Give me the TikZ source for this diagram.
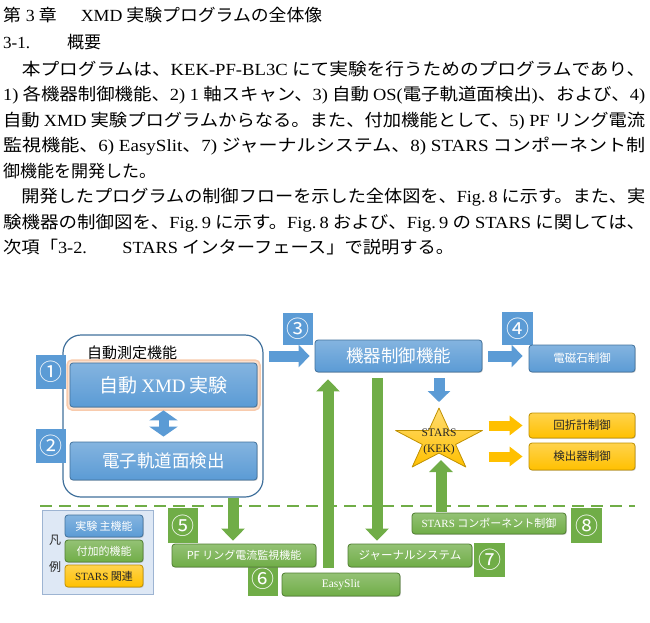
\documentclass[tikz,border=0pt]{standalone}
\usepackage{graphicx}
\usepackage{fontspec}
\setmainfont{Noto Sans CJK JP}
\newfontfamily\latn{Liberation Serif}
\usetikzlibrary{arrows.meta,shadows}
\newcommand{\ltn}[1]{{\latn #1}}
\definecolor{bfill}{HTML}{5B9BD5}
\definecolor{bdraw}{HTML}{41719C}
\definecolor{gfill}{HTML}{70AD47}
\definecolor{gdraw}{HTML}{507E32}
\definecolor{yfill}{HTML}{FFC000}
\definecolor{ydraw}{HTML}{BF9000}
\definecolor{lgfill}{HTML}{DEE8F5}
\definecolor{lgdraw}{HTML}{9DB4D2}
\definecolor{glowc}{HTML}{F8CBAD}
\tikzset{
  para/.style={anchor=base west, inner sep=0pt, font=\fontsize{17}{17}\selectfont},
  box/.style={rounded corners=3pt, inner sep=0pt, align=center, line width=0.8pt,
    drop shadow={shadow xshift=0.9pt, shadow yshift=-0.9pt, opacity=0.35}},
  bbox/.style={box, draw=bdraw, top color=bfill!75!white, bottom color=bfill, text=white},
  gbox/.style={box, draw=gdraw, top color=gfill!75!white, bottom color=gfill, text=white},
  ybox/.style={box, draw=ydraw, top color=yfill!70!white, bottom color=yfill, text=black!85},
  numsq/.style={inner sep=0pt, text=white, font=\fontsize{23}{23}\selectfont},
  bsq/.style={numsq, fill=bfill},
  gsq/.style={numsq, fill=gfill},
  barrow/.style={draw=bfill, line width=11pt, -{Triangle[width=22pt,length=11pt]}},
  darrow/.style={draw=bfill, line width=10pt, {Triangle[width=28pt,length=10pt]}-{Triangle[width=28pt,length=10pt]}},
  oarrow/.style={draw=yfill, line width=10pt, -{Triangle[width=19pt,length=13pt]}},
  garrow/.style={draw=gfill, line width=11pt, -{Triangle[width=23pt,length=12pt]}},
}
\begin{document}
\begin{tikzpicture}[x=1pt,y=-1pt]
\useasboundingbox (0,0) rectangle (650,623);
% ---------------- text ----------------
\node[para] (t1) at (3,21.1) {\resizebox{319pt}{\height}{第\hspace{4.5pt}\ltn{3}\hspace{4pt}章\hspace{23pt}\ltn{XMD} 実験プログラムの全体像}};
\node[para] (t2) at (3,48.2) {\ltn{3-1.}\hspace{37pt}概要};
\node[para] (t3) at (3,75.3) {\resizebox{642pt}{\height}{　本プログラムは、\ltn{KEK-PF-BL3C} にて実験を行うためのプログラムであり、}};
\node[para] (t4) at (3,100.8) {\resizebox{642pt}{\height}{\ltn{1)} 各機器制御機能、\ltn{2) 1} 軸スキャン、\ltn{3)} 自動 \ltn{OS(}電子軌道面検出\ltn{)}、および、\ltn{4)}}};
\node[para] (t5) at (3,126.3) {\resizebox{642pt}{\height}{自動 \ltn{XMD} 実験プログラムからなる。また、付加機能として、\ltn{5) PF} リング電流}};
\node[para] (t6) at (3,151.8) {\resizebox{642pt}{\height}{監視機能、\ltn{6) EasySlit}、\ltn{7)} ジャーナルシステム、\ltn{8) STARS} コンポーネント制}};
\node[para] (t7) at (3,177.3) {御機能を開発した。};
\node[para] (t8) at (3,202.8) {\resizebox{642pt}{\height}{　開発したプログラムの制御フローを示した全体図を、\ltn{Fig.\,8} に示す。また、実}};
\node[para] (t9) at (3,228.3) {\resizebox{642pt}{\height}{験機器の制御図を、\ltn{Fig.\,9} に示す。\ltn{Fig.\,8} および、\ltn{Fig.\,9} の \ltn{STARS} に関しては、}};
\node[para] (t10) at (3,253.8) {\resizebox{451pt}{\height}{次項「\ltn{3-2.}\hspace{33pt}\ltn{STARS} インターフェース」で説明する。}};
% ---------------- diagram ----------------
\draw[gfill, line width=1.3pt, dash pattern=on 12pt off 7pt] (40,506) -- (635,506);
% container
\node[draw=bdraw, fill=white, line width=1.2pt, rounded corners=18pt, minimum width=200pt, minimum height=162pt] (cont) at (163,416) {};
\node[inner sep=0pt, font=\fontsize{15}{15}\selectfont] (contlbl) at (132,353) {自動測定機能};
\node[bsq, minimum width=30pt, minimum height=34pt] (n1) at (51,372) {①};
\node[bsq, minimum width=30pt, minimum height=34pt] (n2) at (51,446) {②};
\node[rounded corners=5pt, minimum width=193pt, minimum height=50pt, fill=glowc!60!white, draw=glowc, line width=1.5pt] (glowbox) at (163.5,385) {};
\node[bbox, minimum width=187pt, minimum height=44pt, font=\fontsize{19}{19}\selectfont] (xmd) at (163.5,385) {自動 \ltn{XMD} 実験};
\node[bbox, minimum width=187pt, minimum height=38pt, font=\fontsize{17.5}{17.5}\selectfont] (orb) at (163.5,461) {電子軌道面検出};
\draw[darrow] ([yshift=-3pt]xmd.south) -- ([yshift=5pt]orb.north);
% control
\node[bsq, minimum width=30pt, minimum height=32pt] (n3) at (298,329) {③};
\node[bsq, minimum width=31pt, minimum height=33pt] (n4) at (517.5,328.5) {④};
\node[bbox, minimum width=167pt, minimum height=32pt, font=\fontsize{17.5}{17.5}\selectfont] (ctrl) at (398.5,356) {機器制御機能};
\node[bbox, minimum width=106pt, minimum height=27pt, font=\fontsize{11.5}{11.5}\selectfont] (em) at (582,358.5) {電磁石制御};
\node[ybox, minimum width=106pt, minimum height=25pt, font=\fontsize{11.5}{11.5}\selectfont] (dif) at (582,425.5) {回折計制御};
\node[ybox, minimum width=106pt, minimum height=27pt, font=\fontsize{11.5}{11.5}\selectfont] (det) at (582,456.5) {検出器制御};
% star
\coordinate (sT) at (439,408);
\coordinate (sB) at (439,453.1);
\path[draw=ydraw, line width=0.8pt, top color=yfill!55!white, bottom color=yfill, line join=round]
  (sT) -- (449.3,430.5) -- (482.4,430.5) -- (455.6,444.5) -- (465.8,467.0) -- (sB)
  -- (412.2,467.0) -- (422.4,444.5) -- (395.6,430.5) -- (428.7,430.5) -- cycle;
\node[align=center, inner sep=0pt, text=black!85, font=\latn\fontsize{11.5}{15.5}\selectfont] (stars) at (439,442) {STARS\\(KEK)};
\coordinate (xs) at (439,0);
\draw[barrow] ([xshift=5pt]cont.east |- ctrl.west) -- ([xshift=-5pt]ctrl.west);
\draw[barrow] ([xshift=6pt]ctrl.east) -- ([xshift=-6pt]em.west |- ctrl.east);
\draw[barrow] ([yshift=-6pt]ctrl.south -| xs) -- ([yshift=6pt]sT);
\draw[oarrow] ([xshift=-40pt]dif.west) -- ([xshift=-6pt]dif.west);
\draw[oarrow] ([xshift=-40pt]det.west) -- ([xshift=-6pt]det.west);
% legend
\node[draw=lgdraw, fill=lgfill, line width=0.8pt, minimum width=111pt, minimum height=84pt] (legend) at (97.5,552) {};
\node[inner sep=0pt, font=\fontsize{12}{12}\selectfont, text=black!85] (fan) at (55,540) {凡};
\node[inner sep=0pt, font=\fontsize{12}{12}\selectfont, text=black!85] (rei) at (55,567) {例};
\node[bbox, minimum width=78pt, minimum height=22pt, font=\fontsize{11}{11}\selectfont] (lg1) at (104,526) {実験 主機能};
\node[gbox, minimum width=78pt, minimum height=22pt, font=\fontsize{11}{11}\selectfont] (lg2) at (104,551) {付加的機能};
\node[ybox, minimum width=78pt, minimum height=22pt, font=\fontsize{11}{11}\selectfont] (lg3) at (104,576) {\ltn{STARS} 関連};
% bottom functions
\node[gsq, minimum width=30pt, minimum height=35pt] (n5) at (183,525.5) {⑤};
\node[gsq, minimum width=30pt, minimum height=34pt] (n6) at (263,579) {⑥};
\node[gsq, minimum width=31pt, minimum height=34pt] (n7) at (489.5,560) {⑦};
\node[gsq, minimum width=31pt, minimum height=35pt] (n8) at (586.5,525.5) {⑧};
\node[gbox, minimum width=144pt, minimum height=23pt, font=\fontsize{11}{11}\selectfont] (pf) at (244,555.5) {PF リング電流監視機能};
\node[gbox, minimum width=118pt, minimum height=23pt, font=\latn\fontsize{11.5}{11.5}\selectfont] (easy) at (341,584.5) {EasySlit};
\node[gbox, minimum width=124pt, minimum height=23pt, font=\fontsize{11.5}{11.5}\selectfont] (jour) at (410,555.5) {ジャーナルシステム};
\node[gbox, minimum width=154pt, minimum height=21pt, font=\fontsize{11}{11}\selectfont] (comp) at (489,523.5) {\ltn{STARS} コンポーネント制御};
\coordinate (xa) at (328,0);
\coordinate (xb) at (377,0);
\coordinate (xc) at (441,0);
\coordinate (xd) at (233,0);
\draw[garrow] (cont.south -| xd) -- ([yshift=3pt]pf.north -| xd);
\draw[garrow] ([yshift=5pt]easy.north -| xa) -- ([yshift=-7pt]ctrl.south -| xa);
\draw[garrow] ([yshift=-6pt]ctrl.south -| xb) -- ([yshift=3pt]jour.north -| xb);
\draw[garrow] ([yshift=1pt]comp.north -| xc) -- ([yshift=-7pt]sB -| xc);
\end{tikzpicture}
\end{document}
